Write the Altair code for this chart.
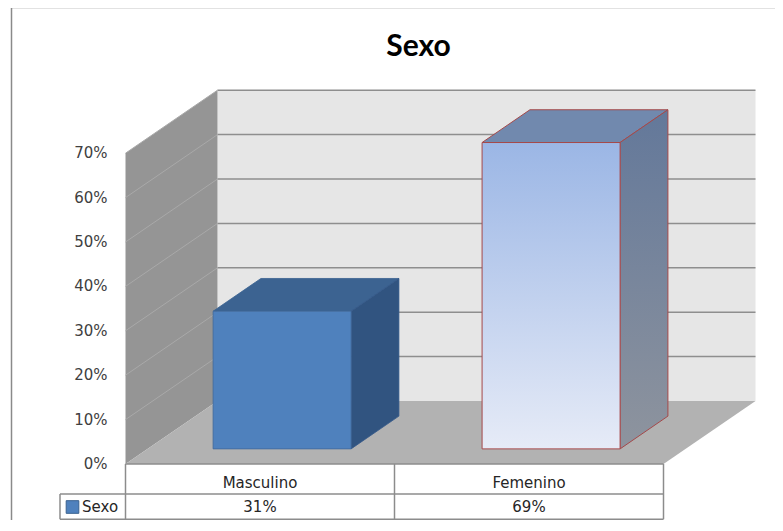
import altair as alt
import pandas as pd

# ---------------- data ----------------
categories = ["Masculino", "Femenino"]
values = [31, 69]
value_labels = ["31%", "69%"]
y_ticks = [0, 10, 20, 30, 40, 50, 60, 70]
tick_labels = ["0%", "10%", "20%", "30%", "40%", "50%", "60%", "70%"]
series_name = "Sexo"
chart_title = "Sexo"

# ---------------- layout (pixel constants -> data units) ----------------
W, H = 767, 512          # view size (fits the window without scrollbars)
ORIG = 8
X0 = 125.5               # screen x of front-left edge of the plot
Y0 = 464.0               # screen y of 0 %
CAT_PX = 269.0           # width of one category column
PCT_PX = 4.44            # pixels per percent
DX = 92.0 / CAT_PX       # depth offset (x, data units)
DY = 63.0 / PCT_PX       # depth offset (y, percent units)
BAR_W = 0.513
D_FRONT, D_BACK = 0.24, 0.76
AX_MAX = 70
FONT = "DejaVu Sans"
FS = 15


def ux(px):
    return (px - X0) / CAT_PX


def uy(py):
    return (Y0 - py) / PCT_PX


xs = alt.Scale(domain=[ux(ORIG), ux(ORIG + W)], nice=False, zero=False)
ys = alt.Scale(domain=[uy(ORIG + H), uy(ORIG)], nice=False, zero=False)


def qx(f):
    return alt.X(f, type="quantitative", scale=xs, axis=None)


def qy(f):
    return alt.Y(f, type="quantitative", scale=ys, axis=None)


NCAT = len(categories)

# ---------------- 3D frame ----------------
back_wall = alt.Chart(pd.DataFrame([{"x": DX, "x2": NCAT + DX, "y": DY, "y2": AX_MAX + DY}])).mark_rect(
    fill="#e6e6e6").encode(x=qx("x"), x2=alt.X2("x2"), y=qy("y"), y2=alt.Y2("y2"))

back_grid = alt.Chart(pd.DataFrame([{"x": DX, "x2": NCAT + DX, "y": t + DY} for t in y_ticks[1:]])).mark_rule(
    color="#8e8e8e", strokeWidth=1.5).encode(x=qx("x"), x2=alt.X2("x2"), y=qy("y"))

left_wall = alt.Chart(pd.DataFrame([
    {"x": 0, "y": 0, "y2": AX_MAX, "k": 1},
    {"x": DX, "y": DY, "y2": AX_MAX + DY, "k": 1},
])).mark_area(orient="vertical", fill="#959595").encode(
    x=qx("x"), y=qy("y"), y2=alt.Y2("y2"), detail="k:N")

left_rows = []
for t in y_ticks[1:]:
    left_rows.append({"t": t, "x": 0, "y": t})
    left_rows.append({"t": t, "x": DX, "y": t + DY})
left_grid = alt.Chart(pd.DataFrame(left_rows)).mark_line(color="#a9a9a9", strokeWidth=1).encode(
    x=qx("x"), y=qy("y"), detail="t:N")

floor = alt.Chart(pd.DataFrame([
    {"y": 0, "x": 0, "x2": NCAT, "k": 1},
    {"y": DY, "x": DX, "x2": NCAT + DX, "k": 1},
])).mark_area(orient="horizontal", fill="#b2b2b2").encode(
    y=qy("y"), x=qx("x"), x2=alt.X2("x2"), detail="k:N")

# ---------------- bars ----------------
front_rows, top_rows, side_rows = [], [], []
for i, (c, v) in enumerate(zip(categories, values)):
    xl = i + 0.5 - BAR_W / 2
    xr = i + 0.5 + BAR_W / 2
    front_rows.append({"cat": c, "x": xl + D_FRONT * DX, "x2": xr + D_FRONT * DX,
                       "y": D_FRONT * DY, "y2": v + D_FRONT * DY})
    for d in (D_FRONT, D_BACK):
        top_rows.append({"cat": c, "y": v + d * DY, "x": xl + d * DX, "x2": xr + d * DX})
        side_rows.append({"cat": c, "x": xr + d * DX, "y": d * DY, "y2": v + d * DY})

front_df = pd.DataFrame(front_rows)
top_df = pd.DataFrame(top_rows)
side_df = pd.DataFrame(side_rows)

is_m = alt.datum.cat == categories[0]
is_f = alt.datum.cat == categories[1]

grad_front = alt.Gradient(gradient="linear", x1=0, x2=0, y1=1, y2=0, stops=[
    alt.GradientStop(color="#e6ebf7", offset=0), alt.GradientStop(color="#9bb6e5", offset=1)])
grad_side = alt.Gradient(gradient="linear", x1=0, x2=0, y1=1, y2=0, stops=[
    alt.GradientStop(color="#8e949e", offset=0), alt.GradientStop(color="#63789a", offset=1)])

m_top = alt.Chart(top_df).transform_filter(is_m).mark_area(
    orient="horizontal", fill="#3c6391", stroke="#3a6290", strokeWidth=0.8).encode(
    y=qy("y"), x=qx("x"), x2=alt.X2("x2"), detail="cat:N")
m_side = alt.Chart(side_df).transform_filter(is_m).mark_area(
    orient="vertical", fill="#315480", stroke="#35598a", strokeWidth=0.8).encode(
    x=qx("x"), y=qy("y"), y2=alt.Y2("y2"), detail="cat:N")
m_front = alt.Chart(front_df).transform_filter(is_m).mark_rect(
    fill="#4f81bd", stroke="#41689a", strokeWidth=0.8).encode(
    x=qx("x"), x2=alt.X2("x2"), y=qy("y"), y2=alt.Y2("y2"))

f_top = alt.Chart(top_df).transform_filter(is_f).mark_area(
    orient="horizontal", fill="#7189ae", stroke="#a5494a", strokeWidth=1).encode(
    y=qy("y"), x=qx("x"), x2=alt.X2("x2"), detail="cat:N")
f_side = alt.Chart(side_df).transform_filter(is_f).mark_area(
    orient="vertical", fill=grad_side, stroke="#a5494a", strokeWidth=1).encode(
    x=qx("x"), y=qy("y"), y2=alt.Y2("y2"), detail="cat:N")
f_front = alt.Chart(front_df).transform_filter(is_f).mark_rect(
    fill=grad_front, stroke="#a5494a", strokeWidth=1).encode(
    x=qx("x"), x2=alt.X2("x2"), y=qy("y"), y2=alt.Y2("y2"))

# ---------------- y tick labels ----------------
ticks = alt.Chart(pd.DataFrame({"t": y_ticks, "lab": tick_labels, "x": ux(107.5)})).mark_text(
    align="right", baseline="middle", font=FONT, fontSize=FS, color="#404040").encode(
    x=qx("x"), y=qy("t"), text="lab:N")

# ---------------- data table ----------------
TBL_L = ux(60)
ROW1 = uy(494)
ROW2 = uy(519.2)
h_lines = pd.DataFrame([
    {"x": 0, "x2": NCAT, "y": 0},
    {"x": TBL_L, "x2": NCAT, "y": ROW1},
    {"x": TBL_L, "x2": NCAT, "y": ROW2},
])
v_lines = pd.DataFrame([{"x": TBL_L, "y": ROW1, "y2": ROW2}] +
                       [{"x": k, "y": 0, "y2": ROW2} for k in range(NCAT + 1)])
tbl_h = alt.Chart(h_lines).mark_rule(color="#8c8c8c", strokeWidth=1.5).encode(
    x=qx("x"), x2=alt.X2("x2"), y=qy("y"))
tbl_v = alt.Chart(v_lines).mark_rule(color="#8c8c8c", strokeWidth=1.5).encode(
    x=qx("x"), y=qy("y"), y2=alt.Y2("y2"))

tbl_df = pd.DataFrame({"cat": categories, "lab": value_labels,
                       "x": [i + 0.5 for i in range(NCAT)],
                       "y1": uy(482.5), "y2": uy(507)})
tbl_cat = alt.Chart(tbl_df).mark_text(font=FONT, fontSize=FS, color="#262626", baseline="middle").encode(
    x=qx("x"), y=qy("y1"), text="cat:N")
tbl_val = alt.Chart(tbl_df).mark_text(font=FONT, fontSize=FS, color="#262626", baseline="middle").encode(
    x=qx("x"), y=qy("y2"), text="lab:N")

leg_df = pd.DataFrame({"s": [series_name], "xs": [ux(72.5)], "xt": [ux(82)], "y": [uy(507)]})
leg_sq = alt.Chart(leg_df).mark_square(size=160, fill="#4f81bd", stroke="#3a6290", strokeWidth=1, opacity=1).encode(
    x=qx("xs"), y=qy("y"))
leg_tx = alt.Chart(leg_df).mark_text(font=FONT, fontSize=FS, color="#262626", align="left",
                                     baseline="middle").encode(x=qx("xt"), y=qy("y"), text="s:N")

# ---------------- title & border ----------------
title_df = pd.DataFrame({"t": [chart_title], "x": [ux(418.5)], "y": [uy(47)]})
title = alt.Chart(title_df).mark_text(font="Lato", fontSize=30, fontWeight="bold", color="#000000",
                                      baseline="middle").encode(x=qx("x"), y=qy("y"), text="t:N")

border = alt.Chart(pd.DataFrame([
    {"x": ux(11.5), "x2": ux(ORIG + W), "y": uy(7.5), "y2": uy(7.5)},
    {"x": ux(11.5), "x2": ux(11.5), "y": uy(7.5), "y2": uy(ORIG + H)},
])).mark_rule(color="#8a8a8a", strokeWidth=1.5).encode(
    x=qx("x"), x2=alt.X2("x2"), y=qy("y"), y2=alt.Y2("y2"))

chart = alt.layer(
    back_wall, back_grid, left_wall, left_grid, floor,
    m_top, m_side, m_front, f_top, f_side, f_front,
    ticks, tbl_h, tbl_v, tbl_cat, tbl_val, leg_sq, leg_tx, title, border,
).properties(
    width=W, height=H, padding=0, autosize=alt.AutoSizeParams(type="none"),
    background="#ffffff",
).configure_view(stroke=None)

chart.save("out.html", embed_options={"renderer": "svg", "actions": False})
